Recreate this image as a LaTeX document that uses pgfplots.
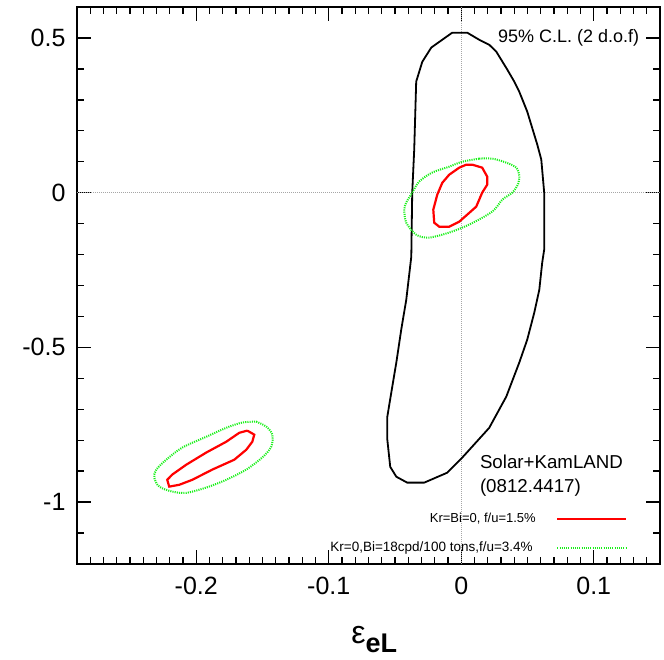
\documentclass[border=0pt]{standalone}
\usepackage{pgfplots}
\pgfplotsset{compat=1.18}
\usepackage{fontspec}
\setmainfont{Liberation Sans}
\definecolor{brgreen}{RGB}{25,240,25}
\begin{document}
\begin{tikzpicture}
\begin{axis}[
  scale only axis,
  width=583pt, height=557pt,
  xmin=-0.29, xmax=0.15, ymin=-1.2, ymax=0.6,
  xtick={-0.2,-0.1,0,0.1}, ytick={-1,-0.5,0,0.5},
  major tick length=0pt,
  axis line style={line width=1.6pt},
  clip=false,
  /pgf/number format/assume math mode=true,
  ticklabel style={font=\fontsize{25}{30}\selectfont},
  xticklabel style={yshift=-10pt},
  yticklabel style={xshift=-8pt},
  xlabel={\fontsize{32}{36}\selectfont ε\raisebox{-9pt}{\bfseries\fontsize{27}{30}\selectfont eL}},
  xlabel style={at={(axis description cs:0.51,0)}, anchor=center, yshift=-76pt},
]
% tick marks on all four sides
\pgfplotsinvokeforeach{-0.28,-0.27,-0.26,-0.25,-0.24,-0.23,-0.22,-0.21,-0.19,-0.18,-0.17,-0.16,-0.15,-0.14,-0.13,-0.12,-0.11,-0.09,-0.08,-0.07,-0.06,-0.05,-0.04,-0.03,-0.02,-0.01,0.01,0.02,0.03,0.04,0.05,0.06,0.07,0.08,0.09,0.11,0.12,0.13,0.14}{
  \draw[black, line width=1.4pt] (axis cs:#1,-1.2) -- ([yshift=7pt]axis cs:#1,-1.2);
  \draw[black, line width=1.4pt] (axis cs:#1,0.6) -- ([yshift=-7pt]axis cs:#1,0.6);
}
\pgfplotsinvokeforeach{-0.2,-0.1,0,0.1}{
  \draw[black, line width=1.4pt] (axis cs:#1,-1.2) -- ([yshift=14pt]axis cs:#1,-1.2);
  \draw[black, line width=1.4pt] (axis cs:#1,0.6) -- ([yshift=-14pt]axis cs:#1,0.6);
}
\pgfplotsinvokeforeach{-1.1,-0.9,-0.8,-0.7,-0.6,-0.4,-0.3,-0.2,-0.1,0.1,0.2,0.3,0.4}{
  \draw[black, line width=1.4pt] (axis cs:-0.29,#1) -- ([xshift=7pt]axis cs:-0.29,#1);
  \draw[black, line width=1.4pt] (axis cs:0.15,#1) -- ([xshift=-7pt]axis cs:0.15,#1);
}
\pgfplotsinvokeforeach{-1,-0.5,0,0.5}{
  \draw[black, line width=1.4pt] (axis cs:-0.29,#1) -- ([xshift=14pt]axis cs:-0.29,#1);
  \draw[black, line width=1.4pt] (axis cs:0.15,#1) -- ([xshift=-14pt]axis cs:0.15,#1);
}

% zero lines
\draw[gray!70, densely dotted, line width=1pt] (axis cs:0,-1.2) -- (axis cs:0,0.6);
\draw[gray!70, densely dotted, line width=1pt] (axis cs:-0.29,0) -- (axis cs:0.15,0);

% black contour (Solar+KamLAND)
\addplot[black, line width=1.8pt] coordinates {
(-0.0068,0.517) (0.0045,0.517) (0.0136,0.494) (0.0211,0.478) (0.0264,0.456)
(0.0347,0.398) (0.040,0.359) (0.0438,0.326) (0.0498,0.262) (0.0574,0.155)
(0.0604,0.107) (0.0626,0.0) (0.0626,-0.184) (0.0611,-0.226) (0.0589,-0.314)
(0.0551,-0.388) (0.0498,-0.475) (0.0438,-0.549) (0.034,-0.659) (0.0211,-0.760)
(0.0008,-0.856) (-0.0106,-0.905) (-0.0279,-0.937) (-0.0408,-0.937) (-0.049,-0.918)
(-0.0536,-0.886) (-0.0558,-0.798) (-0.0558,-0.724) (-0.0528,-0.646) (-0.049,-0.549)
(-0.0453,-0.443) (-0.0415,-0.346) (-0.0377,-0.207) (-0.037,0.0) (-0.0355,0.139)
(-0.034,0.359) (-0.0294,0.423) (-0.0226,0.469) (-0.0068,0.517)
};

% green dotted, central
\addplot[brgreen, dash pattern=on 1.1pt off 1.1pt, line width=2pt, smooth] coordinates {
(0.0136,0.110) (0.0234,0.110) (0.034,0.097) (0.0415,0.081) (0.0438,0.055)
(0.043,0.029) (0.0385,0) (0.031,-0.0226) (0.0234,-0.0614) (0.006,-0.103)
(-0.0091,-0.129) (-0.0242,-0.145) (-0.034,-0.136) (-0.0415,-0.097) (-0.043,-0.055)
(-0.0415,-0.032) (-0.037,0) (-0.0317,0.036) (-0.0219,0.065) (-0.0091,0.084)
(0.0008,0.100) (0.0136,0.110)
};

% red, central
\addplot[red, line width=2.2pt] coordinates {
(0.0083,0.0905) (0.0158,0.0808) (0.0196,0.0517) (0.0196,0.0259) (0.0158,0)
(0.0113,-0.0452) (0.0045,-0.0711) (-0.0015,-0.0937) (-0.0091,-0.110) (-0.0166,-0.110)
(-0.0204,-0.097) (-0.0211,-0.055) (-0.0181,-0.0065) (-0.0143,0.032) (-0.0091,0.058)
(-0.0015,0.0808) (0.0038,0.0905) (0.0083,0.0905)
};

% green dotted, left
\addplot[brgreen, dash pattern=on 1.1pt off 1.1pt, line width=2pt, smooth] coordinates {
(-0.1547,-0.740) (-0.1472,-0.756) (-0.1426,-0.782) (-0.1434,-0.821) (-0.1502,-0.856)
(-0.1623,-0.895) (-0.1774,-0.928) (-0.1925,-0.953) (-0.2075,-0.970) (-0.2181,-0.966)
(-0.2279,-0.950) (-0.2317,-0.921) (-0.2302,-0.895) (-0.2226,-0.863) (-0.2106,-0.824)
(-0.1925,-0.789) (-0.1774,-0.760) (-0.1653,-0.743) (-0.1547,-0.740)
};

% red, left
\addplot[red, line width=2.2pt] coordinates {
(-0.1615,-0.769) (-0.1562,-0.782) (-0.1577,-0.805) (-0.1623,-0.831) (-0.1713,-0.863)
(-0.1879,-0.895) (-0.203,-0.928) (-0.2128,-0.944) (-0.2204,-0.950) (-0.2219,-0.928)
(-0.2181,-0.911) (-0.2075,-0.879) (-0.1925,-0.840) (-0.1774,-0.805) (-0.1675,-0.776)
(-0.1615,-0.769)
};

% legend samples
\addplot[red, line width=2.2pt] coordinates {(0.0725,-1.054) (0.1245,-1.054)};
\addplot[brgreen, dash pattern=on 1.1pt off 1.1pt, line width=2pt] coordinates {(0.0725,-1.147) (0.1245,-1.147)};

\node[anchor=east, font=\fontsize{13}{15}\selectfont] at (axis cs:0.0589,-1.054) {Kr=Bi=0, f/u=1.5\%};
\node[anchor=east, font=\fontsize{13.5}{15}\selectfont] at (axis cs:0.0566,-1.147) {Kr=0,Bi=18cpd/100 tons,f/u=3.4\%};
\node[anchor=west, font=\fontsize{18.7}{22}\selectfont] at (axis cs:0.0115,-0.869) {Solar+KamLAND};
\node[anchor=west, font=\fontsize{18.7}{22}\selectfont] at (axis cs:0.0115,-0.953) {(0812.4417)};
\node[anchor=east, font=\fontsize{18}{22}\selectfont] at (axis cs:0.137,0.5) {95\% C.L. (2 d.o.f)};
\end{axis}
\path ([xshift=-77pt,yshift=-96pt]current axis.south west) rectangle ([xshift=4pt,yshift=7pt]current axis.north east);
\end{tikzpicture}
\end{document}
